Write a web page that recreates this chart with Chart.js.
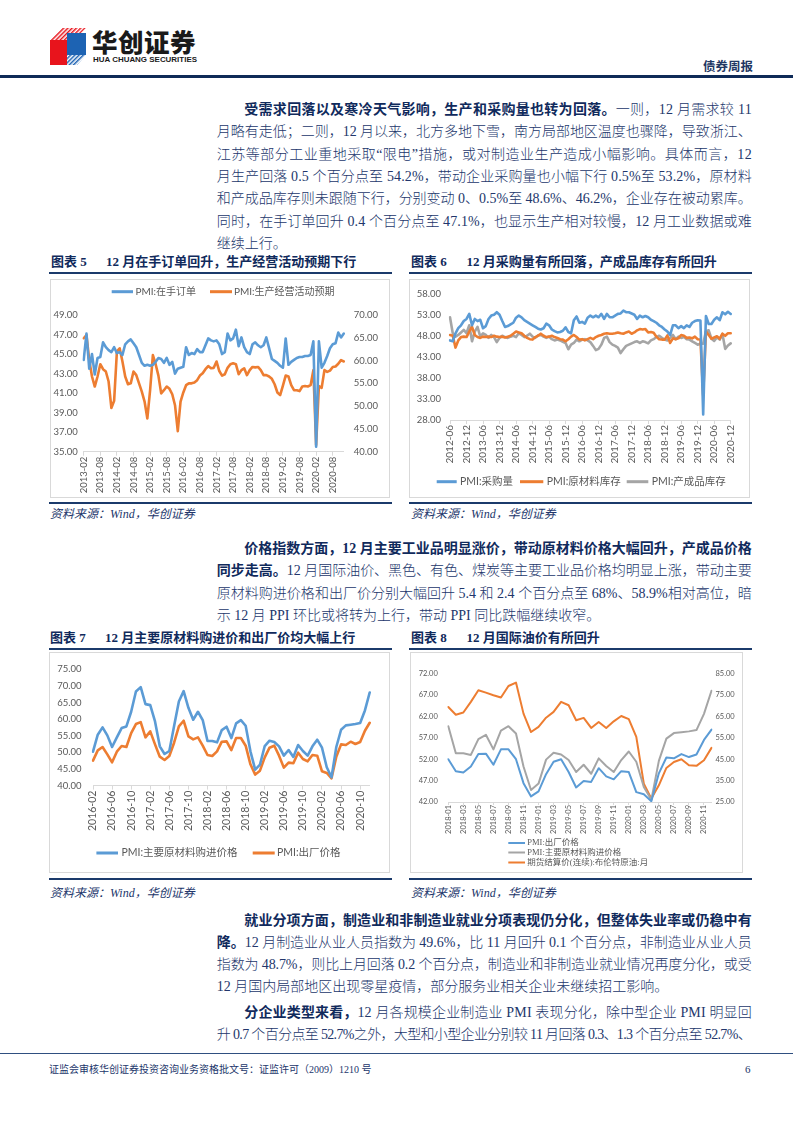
<!DOCTYPE html>
<html lang="zh-CN"><head><meta charset="utf-8">
<title>债券周报</title>
<script src="https://cdn.jsdelivr.net/npm/chart.js@4.4.1/dist/chart.umd.min.js"></script>
<style>
 html,body{margin:0;padding:0;background:#fff;}
 #page{position:relative;width:793px;height:1122px;overflow:hidden;background:#fff;
   font-family:"Liberation Serif","Noto Sans CJK SC",serif;color:#22366b;}
 .ln{position:absolute;white-space:nowrap;font-size:14px;line-height:20px;height:20px;font-weight:300;color:#22366b;}
 .ln b{font-weight:700;color:#102a5c;}
 .tt{position:absolute;white-space:nowrap;font-size:13px;line-height:18px;font-weight:700;color:#102a5c;}
 .rule{position:absolute;background:#1b3a6b;}
 .box{position:absolute;border:1px solid #d9d9d9;box-sizing:border-box;}
 .src{position:absolute;white-space:nowrap;font-size:12px;line-height:14px;font-style:italic;color:#22366b;}
 canvas{position:absolute;}
</style></head>
<body>
<div id="page">
 <!-- header -->
 <svg style="position:absolute;left:50px;top:28px" width="36" height="37" viewBox="0 0 36 37">
  <defs>
   <pattern id="hr" width="3" height="3" patternUnits="userSpaceOnUse" patternTransform="rotate(45)"><rect width="1.5" height="3" fill="#e8141c"/></pattern>
   <pattern id="hb" width="3" height="3" patternUnits="userSpaceOnUse" patternTransform="rotate(45)"><rect width="1.5" height="3" fill="#1d63b3"/></pattern>
  </defs>
  <polygon points="0,12 12,0 36,0 24,12" fill="url(#hr)"/>
  <rect x="0" y="12" width="17" height="25" fill="#e8141c"/>
  <rect x="17" y="5" width="19" height="22" fill="#1d63b3"/>
  <polygon points="17,27 36,27 27,37 17,37" fill="url(#hb)"/>
 </svg>
 <div style="position:absolute;left:92px;top:27px;font-family:'Noto Sans CJK SC';font-weight:900;font-size:25.5px;line-height:28px;color:#1a1a1a;white-space:nowrap;letter-spacing:0.5px">华创证券</div>
 <div id="hua" style="position:absolute;left:93px;top:55px;font-family:'Liberation Sans';font-weight:700;font-size:7.5px;line-height:9px;color:#1a1a1a;white-space:nowrap;transform-origin:0 0">HUA CHUANG SECURITIES</div>
 <div style="position:absolute;left:703px;top:58px;font-family:'Noto Sans CJK SC';font-weight:700;font-size:12.5px;line-height:16px;color:#1f3864;white-space:nowrap">债券周报</div>
 <div class="rule" style="left:0;top:74.5px;width:793px;height:3px;background:#0e2a57"></div>

 <!-- paragraph 1 -->
 <div class="ln" data-w="507.4" style="left:244.3px;top:100px"><b>受需求回落以及寒冷天气影响，生产和采购量也转为回落。</b>一则，12 月需求较 11</div>
 <div class="ln" data-w="534.9" style="left:216.8px;top:122.3px">月略有走低；二则，12 月以来，北方多地下雪，南方局部地区温度也骤降，导致浙江、</div>
 <div class="ln" data-w="534.9" style="left:216.8px;top:144.6px">江苏等部分工业重地采取“限电”措施，或对制造业生产造成小幅影响。具体而言，12</div>
 <div class="ln" data-w="534.9" style="left:216.8px;top:166.9px">月生产回落 0.5 个百分点至 54.2%，带动企业采购量也小幅下行 0.5%至 53.2%，原材料</div>
 <div class="ln" data-w="534.9" style="left:216.8px;top:189.2px">和产成品库存则未跟随下行，分别变动 0、0.5%至 48.6%、46.2%，企业存在被动累库。</div>
 <div class="ln" data-w="534.9" style="left:216.8px;top:211.5px">同时，在手订单回升 0.4 个百分点至 47.1%，也显示生产相对较慢，12 月工业数据或难</div>
 <div class="ln" style="left:216.8px;top:233.8px">继续上行。</div>

 <!-- chart 5 / 6 frames -->
 <div class="tt" style="left:51px;top:253px">图表 5</div>
 <div class="tt" style="left:106px;top:253px">12 月在手订单回升，生产经营活动预期下行</div>
 <div class="rule" style="left:49px;top:271.5px;width:343px;height:2px"></div>
 <div class="box" style="left:50px;top:279px;width:340px;height:219px"></div>
 <canvas id="c5" width="340" height="219" style="left:50px;top:279px;width:340px;height:219px"></canvas>
 <div class="rule" style="left:49px;top:501.5px;width:343px;height:2px"></div>
 <div class="src" style="left:50px;top:506.5px">资料来源：Wind，华创证券</div>

 <div class="tt" style="left:411px;top:253px">图表 6</div>
 <div class="tt" style="left:466.5px;top:253px">12 月采购量有所回落，产成品库存有所回升</div>
 <div class="rule" style="left:409px;top:271.5px;width:343px;height:2px"></div>
 <div class="box" style="left:409px;top:279px;width:341px;height:219px"></div>
 <canvas id="c6" width="341" height="219" style="left:409px;top:279px;width:341px;height:219px"></canvas>
 <div class="rule" style="left:409px;top:501.5px;width:343px;height:2px"></div>
 <div class="src" style="left:411px;top:506.5px">资料来源：Wind，华创证券</div>

 <!-- paragraph 2 -->
 <div class="ln" data-w="507.4" style="left:244.3px;top:539px"><b>价格指数方面，12 月主要工业品明显涨价，带动原材料价格大幅回升，产成品价格</b></div>
 <div class="ln" data-w="534.9" style="left:216.8px;top:561.3px"><b>同步走高。</b>12 月国际油价、黑色、有色、煤炭等主要工业品价格均明显上涨，带动主要</div>
 <div class="ln" data-w="534.9" style="left:216.8px;top:583.6px">原材料购进价格和出厂价分别大幅回升 5.4 和 2.4 个百分点至 68%、58.9%相对高位，暗</div>
 <div class="ln" style="left:216.8px;top:605.9px">示 12 月 PPI 环比或将转为上行，带动 PPI 同比跌幅继续收窄。</div>

 <!-- chart 7 / 8 frames -->
 <div class="tt" style="left:50px;top:629px">图表 7</div>
 <div class="tt" style="left:105px;top:629px">12 月主要原材料购进价和出厂价均大幅上行</div>
 <div class="rule" style="left:49px;top:647.5px;width:343px;height:2px"></div>
 <div class="box" style="left:49px;top:652px;width:341px;height:221px"></div>
 <canvas id="c7" width="341" height="221" style="left:49px;top:652px;width:341px;height:221px"></canvas>
 <div class="rule" style="left:49px;top:877.5px;width:343px;height:2px"></div>
 <div class="src" style="left:50px;top:886px">资料来源：Wind，华创证券</div>

 <div class="tt" style="left:411px;top:629px">图表 8</div>
 <div class="tt" style="left:466.5px;top:629px">12 月国际油价有所回升</div>
 <div class="rule" style="left:409px;top:647.5px;width:343px;height:2px"></div>
 <div class="box" style="left:410px;top:652px;width:333px;height:221px"></div>
 <canvas id="c8" width="333" height="221" style="left:410px;top:652px;width:333px;height:221px"></canvas>
 <div class="rule" style="left:409px;top:877.5px;width:343px;height:2px"></div>
 <div class="src" style="left:411px;top:886px">资料来源：Wind，华创证券</div>

 <!-- paragraph 3 -->
 <div class="ln" data-w="507.4" style="left:244.3px;top:910.5px"><b>就业分项方面，制造业和非制造业就业分项表现仍分化，但整体失业率或仍稳中有</b></div>
 <div class="ln" data-w="534.9" style="left:216.8px;top:932.8px"><b>降。</b>12 月制造业从业人员指数为 49.6%，比 11 月回升 0.1 个百分点，非制造业从业人员</div>
 <div class="ln" data-w="534.9" style="left:216.8px;top:955.1px">指数为 48.7%，则比上月回落 0.2 个百分点，制造业和非制造业就业情况再度分化，或受</div>
 <div class="ln" style="left:216.8px;top:977.4px">12 月国内局部地区出现零星疫情，部分服务业相关企业未继续招工影响。</div>

 <!-- paragraph 4 -->
 <div class="ln" data-w="507.4" style="left:244.3px;top:1003px"><b>分企业类型来看，</b>12 月各规模企业制造业 PMI 表现分化，除中型企业 PMI 明显回</div>
 <div class="ln" data-w="534.9" style="left:216.8px;top:1025.3px">升 0.7 个百分点至 52.7%之外，大型和小型企业分别较 11 月回落 0.3、1.3 个百分点至 52.7%、</div>

 <!-- footer -->
 <div class="rule" style="left:0;top:1052.5px;width:793px;height:1.5px;background:#2f4f80"></div>
 <div style="position:absolute;left:49px;top:1063px;font-size:10px;line-height:14px;white-space:nowrap;color:#22366b">证监会审核华创证券投资咨询业务资格批文号：证监许可（2009）1210 号</div>
 <div style="position:absolute;left:745px;top:1062px;font-size:11px;line-height:14px;white-space:nowrap;color:#22366b">6</div>
</div>

<script>
// ---------------- data ----------------
function monthLabels(y, m, n){
  const out = [];
  for (let i = 0; i < n; i++) {
    const k = m - 1 + i;
    out.push((y + Math.floor(k / 12)) + '-' + String(k % 12 + 1).padStart(2, '0'));
  }
  return out;
}

// 图表5 (2013-02 ~ 2020-12)
const cat5 = monthLabels(2013, 2, 95);
const backlogOrders = [44.4,47.1,43.5,45.0,42.9,44.6,44.7,46.2,45.7,45.4,
 45.2,45.7,45.1,45.2,44.9,46.0,46.3,46.5,46.1,45.7,
 44.9,44.1,43.8,43.9,43.8,43.9,44.2,44.6,44.5,44.1,
 44.6,43.9,44.2,43.0,43.5,43.6,43.7,45.7,44.9,45.1,
 45.0,45.5,45.2,45.2,45.9,46.6,46.4,46.3,46.4,46.0,
 45.0,45.2,47.1,46.4,46.6,47.5,45.8,46.7,45.7,45.2,
 45.0,46.0,46.2,45.9,45.7,45.9,46.7,45.6,44.5,44.3,
 44.1,43.8,43.6,46.6,43.9,44.2,44.4,44.6,44.7,44.7,
 44.8,44.8,44.9,46.3,35.5,46.3,43.6,44.1,44.8,45.6,
 46.0,46.1,47.2,46.7,47.1];
const expectation = [64.9,65.6,60.1,56.5,54.3,56.5,59.2,58.1,57.6,55.4,
 49.6,51.2,62.0,62.7,59.8,56.5,54.8,55.0,57.6,56.8,
 55.0,53.2,51.0,47.3,53.5,61.2,59.2,56.7,52.8,53.5,
 54.3,53.8,52.6,50.2,44.5,51.0,53.0,54.6,55.0,55.0,
 55.2,55.7,56.7,57.2,58.1,58.8,58.3,58.4,59.8,57.7,
 56.7,57.0,58.4,59.2,59.4,59.2,57.0,57.9,58.3,56.8,
 57.9,58.6,58.5,58.6,57.9,56.8,56.8,56.5,56.0,54.8,
 53.0,52.4,54.5,56.7,56.5,54.6,53.5,53.5,53.3,54.3,
 54.4,54.3,54.6,57.9,41.5,54.4,54.0,57.9,57.5,57.8,
 58.6,58.7,59.3,60.1,59.8];

// 图表6 (2012-06 ~ 2020-12)
const cat6 = monthLabels(2012, 6, 103);
const purchases = [46.9,46.7,48.6,49.8,50.5,51.5,52.0,53.2,50.5,52.0,
 51.5,51.8,49.8,50.3,52.0,52.8,53.0,53.6,53.0,51.5,
 50.1,50.3,50.7,51.1,52.3,52.8,52.4,51.7,51.3,50.9,
 50.5,50.1,49.7,49.5,49.8,50.9,50.5,49.5,49.1,48.8,
 48.9,49.2,50.0,48.9,48.6,51.7,52.6,51.1,51.3,50.9,
 52.3,52.8,52.4,52.8,52.4,53.2,52.0,53.2,52.4,52.4,
 52.8,53.2,53.3,54.0,53.6,53.6,53.3,53.0,52.0,52.8,
 52.4,52.7,52.4,51.8,51.5,51.1,50.5,50.1,49.5,49.0,
 48.2,50.5,50.5,49.8,50.3,49.8,50.5,50.1,51.1,51.5,
 51.7,51.6,29.3,52.7,50.8,50.8,51.8,52.4,51.7,53.6,
 53.1,53.7,53.2];
const rawInventory = [48.2,48.0,45.2,46.9,47.7,47.8,47.7,49.0,50.1,48.2,
 47.7,47.5,47.8,47.7,47.8,47.7,48.0,47.8,47.7,47.8,
 47.6,47.8,48.0,48.5,49.0,48.8,48.6,48.0,47.5,47.2,
 47.1,47.7,48.0,48.5,48.0,47.7,47.8,48.0,47.7,47.5,
 47.2,47.1,46.7,47.2,47.8,48.2,47.7,47.1,47.2,46.9,
 47.2,47.5,47.2,47.7,48.0,48.2,48.5,48.6,48.5,48.5,
 48.6,48.8,48.6,48.5,48.8,49.0,48.5,48.8,49.3,49.6,
 49.5,49.6,48.8,48.9,48.7,47.8,47.2,47.1,47.1,48.1,
 46.3,47.4,47.2,47.4,48.2,48.0,47.5,47.6,47.4,47.8,
 47.2,47.1,33.9,49.0,48.2,47.3,47.6,47.9,47.3,48.5,
 48.0,48.6,48.6];
const finishedInventory = [52.4,48.6,47.8,48.2,48.8,49.4,48.6,50.5,46.7,49.0,
 50.1,47.8,48.6,48.2,47.5,48.2,47.7,46.5,47.5,48.0,
 47.7,47.5,47.8,48.0,47.7,48.6,48.2,47.7,48.0,48.5,
 47.8,47.5,48.1,48.2,47.8,47.5,47.8,47.2,46.9,47.1,
 46.9,46.6,46.3,44.8,45.9,46.3,47.1,46.7,47.1,47.2,
 46.9,46.5,45.6,44.6,44.9,45.9,47.5,47.8,46.5,45.9,
 45.6,45.2,43.9,44.8,45.6,45.9,46.2,46.5,46.7,46.3,
 46.7,46.5,46.2,46.9,47.2,47.7,48.0,47.5,47.1,46.9,
 47.5,48.2,47.2,47.8,47.5,47.7,47.2,47.1,46.7,46.3,
 45.9,46.1,46.1,49.1,49.3,47.3,46.8,47.6,47.1,48.4,
 44.9,45.7,46.2];

// 图表7 (2016-02 ~ 2020-12)
const cat7 = monthLabels(2016, 2, 59);
const inputPrice = [50.2,55.3,57.5,55.1,51.6,54.5,57.3,57.8,62.2,68.3,
 69.6,64.5,64.2,59.3,51.8,49.5,50.4,57.9,65.3,68.4,
 63.4,59.8,62.2,59.7,53.4,53.4,53.0,56.7,57.7,54.3,
 58.7,59.7,58.0,50.3,44.8,46.3,51.9,53.5,53.1,51.8,
 49.0,50.7,48.6,52.2,50.4,49.0,51.8,53.8,51.4,45.5,
 42.5,51.6,56.8,58.1,58.3,58.5,58.8,62.6,68.0];
const outputPrice = [47.5,50.6,51.6,49.4,47.0,50.2,51.9,51.6,55.8,58.5,
 59.1,54.5,56.3,52.4,48.7,47.7,48.9,52.9,57.8,59.5,
 54.8,53.9,54.5,52.0,49.2,48.9,50.3,53.2,53.3,50.7,
 54.3,54.3,52.0,46.4,43.3,44.5,48.5,51.4,52.0,49.0,
 45.4,46.9,46.7,49.9,48.0,47.3,49.2,49.0,44.3,43.8,
 42.2,48.7,52.4,52.2,53.2,52.5,53.1,56.5,58.9];

// 图表8 (2018-01 ~ 2020-12)
const cat8 = monthLabels(2018, 1, 36);
const outputPrice8 = outputPrice.slice(23);
const inputPrice8 = inputPrice.slice(23);
const brent = [69.4,65.8,66.8,71.8,77.2,76.1,74.9,73.8,79.2,80.8,
 66.3,57.7,60.1,64.4,67.1,71.8,70.2,63.2,64.3,59.6,
 62.4,59.6,62.7,65.2,63.7,55.4,33.6,26.6,32.8,40.9,
 43.7,45.0,42.2,41.9,44.5,50.3];

// ---------------- styling ----------------
const C = {blue:'#5b9bd5', orange:'#ed7d31', gray:'#a5a5a5', tick:'#595959', axis:'#d9d9d9'};
const FONT = 'Lato, "Noto Sans CJK SC", sans-serif';
Chart.defaults.font.family = FONT;

const LEG = {
  c5:{font:'10px Lato, "Noto Sans CJK SC"', thick:3, items:[
      {ds:0, x0:61.7, x1:83, tx:85.5, y:12.7},
      {ds:1, x0:160, x1:182, tx:184, y:12.7}]},
  c6:{font:'10.5px Lato, "Noto Sans CJK SC"', thick:3, items:[
      {ds:0, x0:27.7, x1:47.7, tx:51, y:202.7},
      {ds:1, x0:111, x1:134.3, tx:137.7, y:202.7},
      {ds:2, x0:217.7, x1:239.3, tx:242.7, y:202.7}]},
  c7:{font:'10.5px Lato, "Noto Sans CJK SC"', thick:3, items:[
      {ds:0, x0:47.4, x1:69, tx:72.4, y:201},
      {ds:1, x0:203.7, x1:225.7, tx:228, y:201}]},
  c8:{font:'8.5px "Liberation Serif", "Noto Sans CJK SC"', thick:2, items:[
      {ds:0, x0:98.3, x1:115, tx:117.3, y:191},
      {ds:1, x0:98.3, x1:115, tx:117.3, y:200.5},
      {ds:2, x0:98.3, x1:115, tx:117.3, y:210.5}]}
};
const customLegend = {
  id:'customLegend',
  afterDraw(chart){
    const o = LEG[chart.canvas.id];
    if (!o) return;
    const ctx = chart.ctx;
    ctx.save();
    ctx.font = o.font; ctx.textBaseline = 'middle'; ctx.textAlign = 'left';
    o.items.forEach(it => {
      const ds = chart.data.datasets[it.ds];
      ctx.fillStyle = ds.borderColor;
      ctx.fillRect(it.x0, it.y - o.thick / 2, it.x1 - it.x0, o.thick);
      ctx.fillStyle = C.tick;
      ctx.fillText(ds.label, it.tx, it.y);
    });
    ctx.restore();
  }
};

function xAxis(every, height, size, tl, pad){
  return {type:'category', offset:false,
    ticks:{autoSkip:false, minRotation:90, maxRotation:90, padding:pad, color:C.tick, font:{size:size, family:FONT},
      callback(v, i){ return i % every === 0 ? this.getLabelForValue(v) : ''; }},
    grid:{display:true, drawOnChartArea:false, drawTicks:true, tickLength:tl, lineWidth:1,
      color:(ctx) => (ctx.index % every === 0 ? C.axis : 'rgba(0,0,0,0)')},
    border:{display:true, color:C.axis, width:1},
    afterFit(s){ s.height = height; }
  };
}
function yAxis(pos, min, max, step, width, pad, size){
  return {type:'linear', position:pos, min:min, max:max,
    ticks:{stepSize:step, padding:pad, color:C.tick, font:{size:size, family:FONT},
      callback:(v) => Number(v).toFixed(2)},
    grid:{display:false, drawTicks:false}, border:{display:false},
    afterFit(s){ s.width = width; }
  };
}
function line(label, data, color, width, axis){
  return {label:label, data:data, borderColor:color, backgroundColor:color, borderWidth:width,
    pointRadius:0, pointHoverRadius:0, tension:0, fill:false, yAxisID:axis,
    borderJoinStyle:'round', borderCapStyle:'round'};
}
function baseOptions(pad, scales){
  return {responsive:false, animation:false, events:[],
    layout:{padding:pad},
    plugins:{legend:{display:false}, tooltip:{enabled:false}},
    scales:scales};
}

function drawCharts(){
  new Chart(document.getElementById('c5'), {
    type:'line',
    data:{labels:cat5, datasets:[
      line('PMI:在手订单', backlogOrders, C.blue, 2.6, 'y'),
      line('PMI:生产经营活动预期', expectation, C.orange, 2.6, 'y1')]},
    options:baseOptions({top:36, left:0, right:0, bottom:0}, {
      x:xAxis(6, 46.3, 9.5, 4, 1),
      y:yAxis('left', 35, 49, 2, 33.7, 6, 9.5),
      y1:yAxis('right', 40, 70, 5, 46.2, 10, 9.5)}),
    plugins:[customLegend]
  });

  new Chart(document.getElementById('c6'), {
    type:'line',
    data:{labels:cat6, datasets:[
      line('PMI:采购量', purchases, C.blue, 2.6, 'y'),
      line('PMI:原材料库存', rawInventory, C.orange, 2.6, 'y'),
      line('PMI:产成品库存', finishedInventory, C.gray, 2.6, 'y')]},
    options:baseOptions({top:10, left:0, right:19.3, bottom:0}, {
      x:xAxis(6, 78, 10, 4, 1),
      y:yAxis('left', 28, 58, 5, 41, 9, 9.5)}),
    plugins:[customLegend]
  });

  new Chart(document.getElementById('c7'), {
    type:'line',
    data:{labels:cat7, datasets:[
      line('PMI:主要原材料购进价格', inputPrice, C.blue, 2.6, 'y'),
      line('PMI:出厂价格', outputPrice, C.orange, 2.6, 'y')]},
    options:baseOptions({top:15, left:0, right:20.3, bottom:0}, {
      x:xAxis(4, 87.4, 10.5, 4, 1),
      y:yAxis('left', 40, 75, 5, 44, 11.5, 9.5)}),
    plugins:[customLegend]
  });

  new Chart(document.getElementById('c8'), {
    type:'line',
    data:{labels:cat8, datasets:[
      line('PMI:出厂价格', outputPrice8, C.blue, 2, 'y'),
      line('PMI:主要原材料购进价格', inputPrice8, C.gray, 2, 'y'),
      line('期货结算价(连续):布伦特原油:月', brent, C.orange, 2, 'y1')]},
    options:baseOptions({top:21.6, left:0, right:0, bottom:0}, {
      x:xAxis(2, 71, 7.5, 3, 0),
      y:yAxis('left', 42, 72, 5, 38.3, 10.5, 7.5),
      y1:yAxis('right', 25, 85, 10, 31.5, 4, 7.5)}),
    plugins:[customLegend]
  });
}

function layoutText(){
  document.querySelectorAll('.ln').forEach(el => {
    const w = parseFloat(el.dataset.w);
    if (!w) return;
    el.style.letterSpacing = '0px';
    const nat = el.getBoundingClientRect().width;
    const n = el.textContent.length;
    if (n > 1) el.style.letterSpacing = ((w - nat) / (n - 1)) + 'px';
  });
  const hua = document.getElementById('hua');
  const hw = hua.getBoundingClientRect().width;
  hua.style.transform = 'scaleX(' + (104 / hw) + ')';
}

const start = () => { layoutText(); drawCharts(); };
if (document.fonts && document.fonts.ready) { document.fonts.ready.then(start); } else { start(); }
</script>
</body></html>
